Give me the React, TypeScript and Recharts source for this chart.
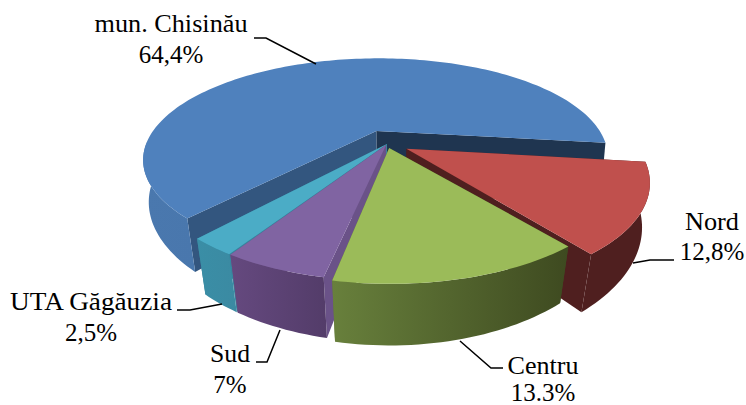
import React from 'react';
import { PieChart, Pie } from 'recharts';

const names = ['mun. Chisinău', 'UTA Găgăuzia', 'Sud', 'Centru', 'Nord'];
const values = [64.4, 2.5, 7, 13.3, 12.8];
const valueLabels = ['64,4%', '2,5%', '7%', '13.3%', '12,8%'];

const topColors = ['#4f81bd', '#4bacc6', '#8064a2', '#9bbb59', '#c0504d'];
const wallLeft = ['#4a78ae', '#3a8ea6', '#65497f', '#68803c', '#4f1f1f'];
const wallRight = ['#426fa5', '#3b8aa2', '#533c69', '#3e4a20', '#4f1f1f'];
const cutStart = ['#1f3550', '#2f7f96', '#6a5288', '#5f7536', '#4f1f1f'];
const cutEnd = ['#33567f', '#37879f', '#6a5288', '#3e4a20', '#4f1f1f'];
const explode = [0.143, 0.0, 0.01, 0.04, 0.095];
const radialScale = [1, 0.985, 0.975, 0.96, 0.985];
const startAdjust = [-0.5, 3.8, 4.2, -0.3, -0.9];
const endAdjust = [3.2, 4, -1, 0.9, -0.6];
const backLayer = [0, 4];

const chartData = names.map((name, i) => ({ name, value: values[i], fill: topColors[i], idx: i }));

const START_ANGLE = -6.5;
const SQUASH = 0.431;
const PERSPECTIVE = 0.286;
const DEPTH = 44;
const SHRINK = 0.046;

const labelLayout = [
  { x: 171, y1: 32, y2: 63, w: 153, line: '254,38 266,38 316,64' },
  { x: 91, y1: 310, y2: 341, w: 162, line: '177,310 190,310 222,304' },
  { x: 230, y1: 362, y2: 393, w: 40, line: '256,362 267,362 280,330' },
  { x: 543, y1: 374, y2: 401, w: 71, line: '503,368 491,368 460,341' },
  { x: 712, y1: 230, y2: 260, w: 54, line: '674,260 650,260 633,263' },
];

const rad = (d: number) => (d * Math.PI) / 180;

function makeProjector(cx: number, cy: number, r: number, mid: number, e: number) {
  const ox = Math.cos(rad(mid)) * e;
  const of = -Math.sin(rad(mid)) * e;
  return (angle: number | null, rho: number, z: number) => {
    const X = (angle === null ? 0 : Math.cos(rad(angle)) * rho) + ox;
    const F = (angle === null ? 0 : -Math.sin(rad(angle)) * rho) + of;
    const s = 1 / (1 - PERSPECTIVE * F);
    const shrink = SHRINK * Math.max(0.2, 0.4 + 0.75 * F);
    const x = cx + r * X * s * (1 - shrink * z);
    const y = cy + r * SQUASH * F * s + DEPTH * s * z;
    return [x, y] as [number, number];
  };
}

const toPath = (pts: [number, number][]) =>
  pts.map((p, i) => `${i ? 'L' : 'M'}${p[0].toFixed(2)} ${p[1].toFixed(2)}`).join(' ') + ' Z';

function Slice3D(props: any) {
  const { cx, cy, outerRadius, startAngle, endAngle, payload } = props;
  const idx = payload.idx;
  const a0 = startAngle + startAdjust[idx];
  const a1 = endAngle + endAdjust[idx];
  const rho = radialScale[idx];
  const mid = (startAngle + endAngle) / 2;
  const offF = -Math.sin(rad(mid)) * explode[idx];
  const P = makeProjector(cx, cy, outerRadius, mid, explode[idx]);
  const n = Math.max(8, Math.ceil(Math.abs(a1 - a0) / 1.5));
  const top: [number, number][] = [];
  const bottom: [number, number][] = [];
  const runs: [number, number][][] = [];
  let runT: [number, number][] = [];
  let runB: [number, number][] = [];
  const flush = () => {
    if (runT.length > 1) runs.push([...runT, ...runB.slice().reverse()]);
    runT = [];
    runB = [];
  };
  for (let i = 0; i <= n; i++) {
    const a = a0 + ((a1 - a0) * i) / n;
    const t = P(a, rho, 0);
    const b = P(a, rho, 1);
    top.push(t);
    bottom.push(b);
    if (-Math.sin(rad(a)) * rho + offF >= -0.03) {
      runT.push(t);
      runB.push(b);
    } else {
      flush();
    }
  }
  flush();
  const apexT = P(null, 0, 0);
  const apexB = P(null, 0, 1);
  const xs = [...top, ...bottom].filter((p) => p[1] > cy).map((p) => p[0]);
  const minX = Math.min(...xs);
  const maxX = Math.max(...xs);
  const gid = `wall-${idx}`;
  return (
    <g>
      <defs>
        <linearGradient id={gid} gradientUnits="userSpaceOnUse" x1={minX} x2={maxX} y1={0} y2={0}>
          <stop offset="0%" stopColor={wallLeft[idx]} />
          <stop offset="100%" stopColor={wallRight[idx]} />
        </linearGradient>
      </defs>
      <path d={toPath([apexT, top[0], bottom[0], apexB])} fill={cutStart[idx]} stroke="none" />
      <path d={toPath([apexT, top[n], bottom[n], apexB])} fill={cutEnd[idx]} stroke="none" />
      {runs.map((r, i) => (
        <path key={i} d={toPath(r)} fill={`url(#${gid})`} stroke="none" />
      ))}
      <path d={toPath([apexT, ...top])} fill={topColors[idx]} stroke="none" />
    </g>
  );
}

const backShape = (p: any) => (backLayer.includes(p.payload.idx) ? <Slice3D {...p} /> : <g />);
const frontShape = (p: any) => (backLayer.includes(p.payload.idx) ? <g /> : <Slice3D {...p} />);

function SliceLabel(props: any) {
  const idx = props.payload?.idx ?? props.idx;
  const l = labelLayout[idx];
  return (
    <g>
      <polyline points={l.line} fill="none" stroke="#000" strokeWidth={1.5} />
      <text
        x={l.x}
        y={l.y1}
        textAnchor="middle"
        fontFamily="'Liberation Serif', serif"
        fontSize={26}
        fill="#000"
        textLength={l.w}
        lengthAdjust="spacingAndGlyphs"
      >
        {names[idx]}
      </text>
      <text x={l.x} y={l.y2} textAnchor="middle" fontFamily="'Liberation Serif', serif" fontSize={25} fill="#000">
        {valueLabels[idx]}
      </text>
    </g>
  );
}

const pieProps = {
  data: chartData,
  dataKey: 'value',
  nameKey: 'name',
  cx: 387,
  cy: 144,
  innerRadius: 0,
  outerRadius: 232,
  startAngle: START_ANGLE,
  endAngle: START_ANGLE + 360,
  stroke: 'none',
  isAnimationActive: false,
  labelLine: false,
};

export default function App() {
  return (
    <div style={{ position: 'absolute', left: 0, top: 0, width: 746, height: 405, background: '#fff' }}>
      <PieChart width={746} height={405} margin={{ top: 0, right: 0, bottom: 0, left: 0 }}>
        <Pie {...pieProps} shape={backShape} label={false} />
        <Pie {...pieProps} shape={frontShape} label={SliceLabel} />
      </PieChart>
    </div>
  );
}
